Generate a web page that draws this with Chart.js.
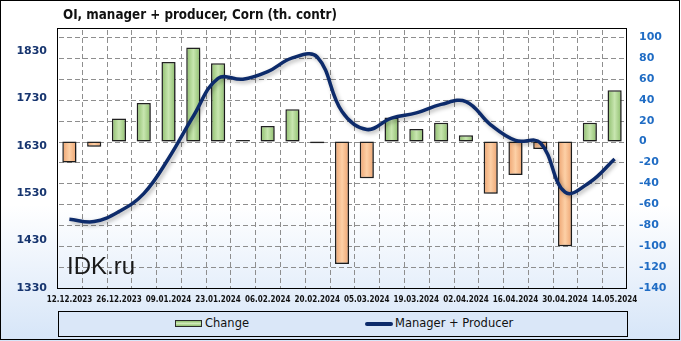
<!DOCTYPE html>
<html>
<head>
<meta charset="utf-8">
<script src="https://cdn.jsdelivr.net/npm/chart.js@4/dist/chart.umd.min.js"></script>
<style>
html,body{margin:0;padding:0;}
body{width:681px;height:341px;position:relative;overflow:hidden;
  background:linear-gradient(to bottom,#ffffff 0%,#ffffff 60%,#d6e5f8 100%);}
#frame{position:absolute;left:0;top:0;width:680px;height:340px;box-sizing:border-box;border:1px solid #000;pointer-events:none;}
#c{position:absolute;left:0;top:0;}
#title{position:absolute;left:63px;top:7px;font:bold 13.3px 'DejaVu Sans Condensed','DejaVu Sans',sans-serif;color:#111;white-space:nowrap;}
#wm{position:absolute;left:67px;top:252px;font:24px 'Liberation Sans',Arial,sans-serif;color:#1a1a1a;white-space:nowrap;}
#legend{position:absolute;left:58px;top:311px;width:570px;height:26px;box-sizing:border-box;border:1px solid #000;background:#dae7f8;}
.lt{position:absolute;top:4px;font:11.5px 'DejaVu Sans',sans-serif;color:#111;white-space:nowrap;}
#mk1{position:absolute;left:116px;top:8px;width:27px;height:7px;box-sizing:border-box;border:1px solid #2a2a2a;
  background:linear-gradient(to bottom,#8fbf6e,#cfe8b8 50%,#8fbf6e);}
#mk2{position:absolute;left:306px;top:10px;width:28px;height:4px;border-radius:2px;background:#0d2b6b;}
</style>
</head>
<body>
<canvas id="c" width="681" height="341"></canvas>
<div id="title">OI, manager + producer, Corn (th. contr)</div>
<div id="wm">IDK.ru</div>
<div id="legend">
  <div id="mk1"></div><div class="lt" style="left:146px">Change</div>
  <div id="mk2"></div><div class="lt" style="left:336px">Manager + Producer</div>
</div>
<div id="frame"></div>
<script>
const categories = ['12.12.2023','19.12.2023','26.12.2023','02.01.2024','09.01.2024','16.01.2024','23.01.2024','30.01.2024','06.02.2024','13.02.2024','20.02.2024','27.02.2024','05.03.2024','12.03.2024','19.03.2024','26.03.2024','02.04.2024','09.04.2024','16.04.2024','23.04.2024','30.04.2024','07.05.2024','14.05.2024'];
const changeValues = [-20,-5,22,37,76,90,75,1.5,15,31,-1.5,-117,-35,23,12,18,6,-50,-32,-7,-100,18,49];
const managerProducer = [1475,1470,1491,1529,1603,1692,1772,1770,1786,1815,1817,1702,1664,1688,1699,1717,1723,1674,1641,1636,1532,1553,1602];
const leftTicks = [1330,1430,1530,1630,1730,1830];
const rightTicks = [-140,-120,-100,-80,-60,-40,-20,0,20,40,60,80,100];

const BAR_FRAC = 0.57;

function barFill(c){
  const chart = c.chart;
  const xs = chart.scales && chart.scales.x;
  const v = c.raw;
  const pos = v >= 0;
  const edge = pos ? '#8dbd6c' : '#eda370';
  const mid = pos ? '#c8e6b0' : '#fdd0a6';
  if (!xs || c.dataIndex === undefined || !xs.width) return pos ? '#abd290' : '#f5b886';
  const px = xs.getPixelForValue(c.dataIndex);
  const w = xs.width / categories.length * BAR_FRAC;
  const g = chart.ctx.createLinearGradient(px - w/2, 0, px + w/2, 0);
  g.addColorStop(0, edge);
  g.addColorStop(0.5, mid);
  g.addColorStop(1, edge);
  return g;
}

const shadowPlugin = {
  id: 'shadows',
  beforeDatasetDraw(chart){
    const ctx = chart.ctx;
    ctx.save();
    ctx.shadowColor = 'rgba(0,0,0,0.3)';
    ctx.shadowBlur = 4;
    ctx.shadowOffsetX = 2;
    ctx.shadowOffsetY = 2;
  },
  afterDatasetDraw(chart){
    chart.ctx.restore();
  }
};

function dashV(ctx, x, y0, y1){
  for (let y = y0; y < y1; y += 8) ctx.fillRect(x, y, 1, Math.min(5, y1 - y));
}
function dashH(ctx, y, x0, x1){
  for (let x = x0; x < x1; x += 8) ctx.fillRect(x, y, Math.min(5, x1 - x), 1);
}

const gridFramePlugin = {
  id: 'gridFrame',
  beforeDatasetsDraw(chart){
    const a = chart.chartArea, ctx = chart.ctx;
    const xs = chart.scales.x, ys = chart.scales.y1;
    ctx.save();
    ctx.fillStyle = '#8e8e8e';
    const top = Math.round(a.top), bottom = Math.round(a.bottom);
    const left = Math.round(a.left), right = Math.round(a.right);
    for (let i = 1; i < categories.length; i++){
      const x = Math.round((xs.getPixelForValue(i - 1) + xs.getPixelForValue(i)) / 2);
      dashV(ctx, x, top + 2, bottom);
    }
    rightTicks.forEach(v => {
      const y = Math.round(ys.getPixelForValue(v));
      dashH(ctx, y, left + 2, right);
    });
    ctx.strokeStyle = '#000';
    ctx.lineWidth = 1;
    ctx.strokeRect(left + 0.5, top + 0.5, right - left - 1, bottom - top);
    ctx.restore();
  }
};

new Chart(document.getElementById('c'), {
  type: 'bar',
  data: {
    labels: categories,
    datasets: [
      {
        type: 'line',
        label: 'Manager + Producer',
        data: managerProducer,
        yAxisID: 'y',
        borderColor: '#0d2b6b',
        borderWidth: 3.5,
        pointRadius: 0,
        tension: 0.4,
        fill: false,
        order: 0
      },
      {
        type: 'bar',
        label: 'Change',
        data: changeValues,
        yAxisID: 'y1',
        backgroundColor: barFill,
        borderColor: '#222',
        borderWidth: 1.5,
        borderSkipped: false,
        categoryPercentage: 1,
        barPercentage: BAR_FRAC,
        order: 1
      }
    ]
  },
  options: {
    responsive: false,
    animation: false,
    events: [],
    layout: { padding: { left: 0, right: 0, top: 28, bottom: 0 } },
    plugins: { legend: { display: false }, title: { display: false }, tooltip: { enabled: false } },
    scales: {
      x: {
        offset: true,
        grid: { display: false, drawTicks: false },
        border: { display: false },
        ticks: {
          autoSkip: false, maxRotation: 0, minRotation: 0, padding: 7,
          color: '#111',
          font: { family: "'DejaVu Sans Condensed','DejaVu Sans'", weight: 'bold', size: 8 },
          callback: function(v, i){ return i % 2 === 0 ? categories[i] : ''; }
        },
        afterFit(s){ s.height = 53; }
      },
      y: {
        position: 'left',
        min: 1330, max: 1878,
        grid: { display: false, drawTicks: false },
        border: { display: false },
        afterBuildTicks(s){ s.ticks = leftTicks.map(v => ({ value: v })); },
        ticks: {
          padding: 10, color: '#17356f',
          font: { family: "'DejaVu Sans'", weight: 'bold', size: 11 },
          callback: function(v){ return String(v); }
        },
        afterFit(s){ s.width = 57; }
      },
      y1: {
        position: 'right',
        min: -140, max: 108.6,
        grid: { display: false, drawTicks: false },
        border: { display: false },
        afterBuildTicks(s){ s.ticks = rightTicks.map(v => ({ value: v })); },
        ticks: {
          padding: 12, color: '#1f6cc4',
          font: { family: "'DejaVu Sans'", weight: 'bold', size: 11 },
          callback: function(v){ return String(v); }
        },
        afterFit(s){ s.width = 54; }
      }
    }
  },
  plugins: [gridFramePlugin, shadowPlugin]
});
</script>
</body>
</html>
